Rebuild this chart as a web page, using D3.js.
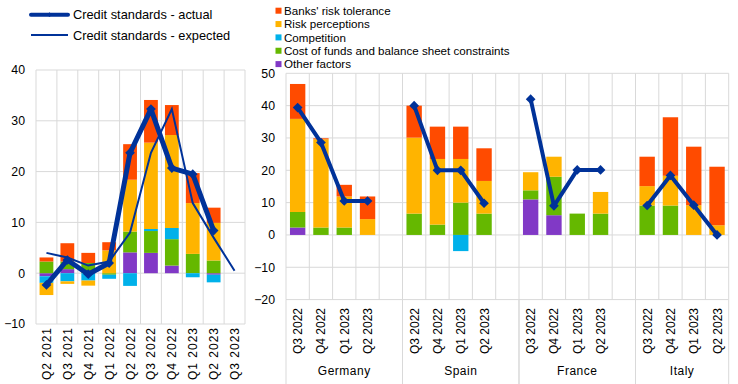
<!DOCTYPE html>
<html><head><meta charset="utf-8">
<script src="https://cdn.jsdelivr.net/npm/d3@7"></script>
<style>
body{margin:0;background:#fff;}
svg{font-family:"Liberation Sans",Arial,sans-serif;}
</style></head>
<body><svg id="c" width="738" height="384"></svg>
<script>
// ---- Left panel data (euro area) ----
const leftQuarters = ["Q2 2021","Q3 2021","Q4 2021","Q1 2022","Q2 2022","Q3 2022","Q4 2022","Q1 2023","Q2 2023","Q3 2023"];
const leftOther       = [-0.6, 0.8, 0.0, 0.0, 4.1, 4.0, 1.5, 0.0, -0.3, 0];
const leftCost        = [ 2.3, 1.5, 2.0, -0.3, 4.1, 4.3, 5.2, 3.8, 2.5, 0];
const leftCompetition = [-1.3, -1.6, -1.45, -0.8, -2.5, 0.4, 2.2, -0.8, -1.5, 0];
const leftPerceptions = [-2.4, -0.5, -1.0, 4.5, 10.2, 17.0, 18.3, 10.0, 7.4, 0];
const leftTolerance   = [ 0.8, 3.6, 2.0, 1.6, 7.0, 8.4, 5.9, 5.9, 3.0, 0];
const leftActual      = [-2.3, 2.6, -0.2, 2.0, 23.7, 32.3, 20.7, 19.5, 8.4, null];
const leftExpected    = [ 4.0, 3.1, 1.5, 2.3, 8.0, 23.7, 32.3, 13.8, 7.0, 0.5];
const leftTicks = [-10, 0, 10, 20, 30, 40];

// ---- Right panel data (countries) ----
const countries = ["Germany","Spain","France","Italy"];
const rightQuarters = ["Q3 2022","Q4 2022","Q1 2023","Q2 2023"];
const rightOther       = [2.3,0,0,0,   0,0,0,0,        11.0,6.1,0,0,   0,0,0,0];
const rightCost        = [4.8,2.3,2.3,0, 6.6,3.2,10.0,6.6, 2.8,11.9,6.6,6.6, 9.1,9.1,0,0];
const rightCompetition = [0,0,0,0,     0,0,-5.0,0,     0,0,0,0,        0,0,0,0];
const rightPerceptions = [28.8,27.3,9.6,4.9, 23.5,20.3,13.5,10.1, 5.6,6.2,0,6.7, 6.0,9.2,9.2,3.0];
const rightTolerance   = [10.8,0.3,3.6,7.0, 9.9,10.0,10.0,10.1, 0,0,0,0, 9.1,18.1,18.1,18.1];
const rightActual      = [39.4,28.6,10.5,10.5, 40.0,20.0,20.0,9.8, 42.0,9.0,20.1,20.1, 9.1,18.4,9.2,0.0];
const rightTicks = [-20, -10, 0, 10, 20, 30, 40, 50];

const seriesNames = ["Banks' risk tolerance","Risk perceptions","Competition","Cost of funds and balance sheet constraints","Other factors"];
const seriesKeys  = ["tol","perc","comp","cost","other"];
const colors = {tol:"#FF4B00", perc:"#FFB400", comp:"#00B1EA", cost:"#65B800", other:"#8139C6"};
const lineBlue = "#003299";
const gridCol = "#d9d9d9";
const stackOrder = ["other","cost","comp","perc","tol"];

const svg = d3.select("#c");

function drawPanel(cfg){
  const g = svg.append("g");
  const x = d3.scaleBand().domain(cfg.domain).range([cfg.x0, cfg.x1]).paddingInner(0.34).paddingOuter(0.17);
  const xb = d3.scaleBand().domain(cfg.domain).range([cfg.x0, cfg.x1]);
  const y = d3.scaleLinear().domain(cfg.ydom).range([cfg.y1, cfg.y0]);
  g.append("g").selectAll("line").data(cfg.ticks).join("line")
    .attr("x1", cfg.x0).attr("x2", cfg.x1).attr("y1", d=>y(d)).attr("y2", d=>y(d))
    .attr("stroke", gridCol).attr("stroke-width",1);
  const vb = cfg.domain.map(d=>xb(d)).concat([cfg.x1]);
  g.append("g").selectAll("line").data(vb).join("line")
    .attr("x1", d=>d).attr("x2", d=>d).attr("y1", y(cfg.ydom[1])).attr("y2", y(cfg.ydom[0]))
    .attr("stroke", gridCol).attr("stroke-width",1);
  const ya = d3.axisLeft(y).tickValues(cfg.ticks).tickSize(0).tickPadding(11);
  const yg = g.append("g").attr("transform",`translate(${cfg.x0},0)`).call(ya);
  yg.select(".domain").remove();
  yg.selectAll("text").attr("font-size",12.3).attr("fill","#000").attr("font-family","Liberation Sans, Arial, sans-serif");
  const st = d3.stack().keys(stackOrder).offset(d3.stackOffsetDiverging)(cfg.rows);
  g.append("g").selectAll("g").data(st).join("g").attr("fill", d=>colors[d.key])
    .selectAll("rect").data(d=>d.filter(s=>s[1]-s[0]!==0)).join("rect")
    .attr("x", d=>x(d.data.cat)).attr("width", x.bandwidth())
    .attr("y", d=>y(Math.max(d[0],d[1]))).attr("height", d=>Math.abs(y(d[0])-y(d[1])));
  return {g,x,xb,y};
}

// ---- Left panel ----
const leftRows = leftQuarters.map((q,i)=>({cat:q, other:leftOther[i], cost:leftCost[i], comp:leftCompetition[i], perc:leftPerceptions[i], tol:leftTolerance[i]}));
const L = drawPanel({domain:leftQuarters, x0:36, x1:245, y0:70, y1:324, ydom:[-10,40], ticks:leftTicks, rows:leftRows});
const lc = d=>L.xb(d)+L.xb.bandwidth()/2;
L.g.append("path").datum(leftQuarters.map((q,i)=>({q,v:leftExpected[i]})))
  .attr("fill","none").attr("stroke",lineBlue).attr("stroke-width",2)
  .attr("d", d3.line().defined(d=>d.v!=null).x(d=>lc(d.q)).y(d=>L.y(d.v)));
const la = leftQuarters.map((q,i)=>({q,v:leftActual[i]})).filter(d=>d.v!=null);
L.g.append("path").datum(la).attr("fill","none").attr("stroke",lineBlue).attr("stroke-width",5).attr("stroke-linejoin","round")
  .attr("d", d3.line().x(d=>lc(d.q)).y(d=>L.y(d.v)));
const diamond = d3.symbol().type(d3.symbolDiamond2).size(60);
L.g.append("g").selectAll("path").data(la).join("path")
  .attr("d", diamond).attr("fill",lineBlue)
  .attr("transform", d=>`translate(${lc(d.q)},${L.y(d.v)})`);
L.g.append("g").selectAll("text").data(leftQuarters).join("text")
  .attr("transform", d=>`translate(${lc(d)+4.5},327) rotate(-90)`)
  .attr("text-anchor","end").attr("font-size",12).attr("letter-spacing","1px").attr("fill","#000").text(d=>d);

// ---- Right panel ----
const rightDomain = [];
const rightRows = [];
countries.forEach((c,ci)=>{
  rightQuarters.forEach((q,qi)=>{
    const k = ci*4+qi;
    const cat = c+"|"+q;
    rightDomain.push(cat);
    rightRows.push({cat, other:rightOther[k], cost:rightCost[k], comp:rightCompetition[k], perc:rightPerceptions[k], tol:rightTolerance[k]});
  });
  if (ci < countries.length-1) { rightDomain.push("gap"+ci); rightRows.push({cat:"gap"+ci, other:0,cost:0,comp:0,perc:0,tol:0}); }
});
const R = drawPanel({domain:rightDomain, x0:286, x1:728.7, y0:73.3, y1:299.6, ydom:[-20,50], ticks:rightTicks, rows:rightRows});
const rc = d=>R.xb(d)+R.xb.bandwidth()/2;
countries.forEach((c,ci)=>{
  const pts = rightQuarters.map((q,qi)=>({cat:c+"|"+q, v:rightActual[ci*4+qi]}));
  R.g.append("path").datum(pts).attr("fill","none").attr("stroke",lineBlue).attr("stroke-width",4).attr("stroke-linejoin","round")
    .attr("d", d3.line().x(d=>rc(d.cat)).y(d=>R.y(d.v)));
  R.g.append("g").selectAll("path").data(pts).join("path")
    .attr("d", diamond).attr("fill",lineBlue)
    .attr("transform", d=>`translate(${rc(d.cat)},${R.y(d.v)})`);
  R.g.append("g").selectAll("text").data(pts).join("text")
    .attr("transform", d=>`translate(${rc(d.cat)+4.5},308) rotate(-90)`)
    .attr("text-anchor","end").attr("font-size",12).attr("fill","#000").text(d=>d.cat.split("|")[1]);
  const gx0 = R.xb(c+"|"+rightQuarters[0]);
  const gx1 = ci < countries.length-1 ? R.xb("gap"+ci)+R.xb.bandwidth() : 728.7;
  R.g.append("text").attr("x",(gx0+gx1)/2).attr("y",375).attr("text-anchor","middle")
    .attr("font-size",12).attr("letter-spacing","0.5px").attr("fill","#000").text(c);
  [gx0, gx1].forEach(xx=>R.g.append("line").attr("x1",xx).attr("x2",xx).attr("y1",299.6).attr("y2",384)
    .attr("stroke",gridCol).attr("stroke-width",1));
});

// ---- Legends ----
const lg = svg.append("g");
lg.append("line").attr("x1",31).attr("x2",68).attr("y1",14.7).attr("y2",14.7).attr("stroke",lineBlue).attr("stroke-width",4).attr("stroke-linecap","round");
lg.append("path").attr("d",d3.symbol().type(d3.symbolDiamond2).size(14)).attr("fill",lineBlue).attr("transform","translate(49.5,14.7)");
lg.append("text").attr("x",73).attr("y",19.2).attr("font-size",12.8).attr("fill","#000").text("Credit standards - actual");
lg.append("line").attr("x1",31).attr("x2",68).attr("y1",35).attr("y2",35).attr("stroke",lineBlue).attr("stroke-width",2);
lg.append("text").attr("x",73).attr("y",39.7).attr("font-size",12.8).attr("fill","#000").text("Credit standards - expected");

const rg = svg.append("g");
seriesKeys.forEach((k,i)=>{
  const cy = 10.7 + i*13.35;
  rg.append("rect").attr("x",275.5).attr("y",cy-3).attr("width",6).attr("height",6).attr("fill",colors[k]);
  rg.append("text").attr("x",284).attr("y",cy+4.2).attr("font-size",11.6).attr("fill","#000").text(seriesNames[i]);
});
</script></body></html>
